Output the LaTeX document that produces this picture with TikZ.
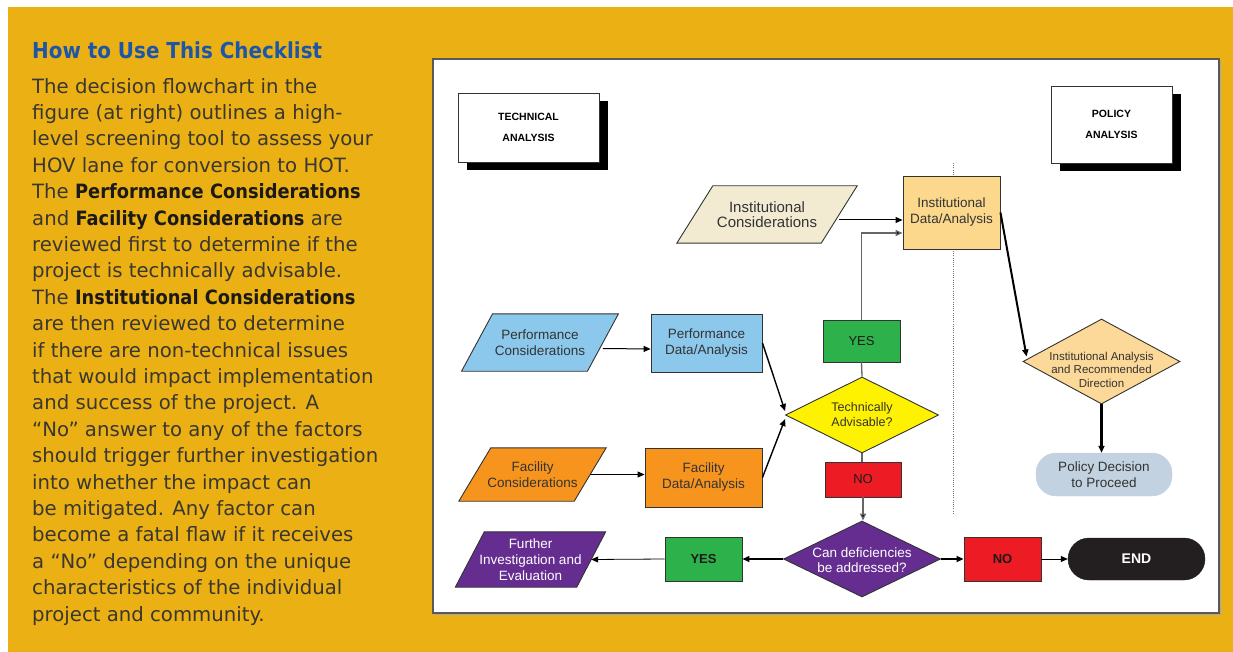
\documentclass[tikz,border=0pt]{standalone}
\usepackage{fontspec}
\setmainfont{Liberation Sans}
\newfontfamily\bodyfont{DejaVu Sans}[BoldFeatures={FakeStretch=0.905}]
\usetikzlibrary{shapes.geometric,arrows.meta,shadows}

\pgfdeclarelayer{panel}
\pgfdeclarelayer{shapes}
\pgfsetlayers{panel,shapes,main}

\definecolor{gold}{HTML}{EBB114}
\definecolor{titleblue}{HTML}{1D56A8}
\definecolor{bodygray}{HTML}{3A3630}
\definecolor{boldgray}{HTML}{1C1A18}
\definecolor{linegray}{HTML}{333333}
\definecolor{txtgray}{HTML}{333333}
\definecolor{linkgray}{HTML}{666666}
\definecolor{perfblue}{HTML}{8CC8EC}
\definecolor{facorange}{HTML}{F7941D}
\definecolor{instbeige}{HTML}{F2EBD2}
\definecolor{instdata}{HTML}{FBD88C}
\definecolor{yesgreen}{HTML}{2DB24B}
\definecolor{nored}{HTML}{ED1C24}
\definecolor{askyellow}{HTML}{FFF200}
\definecolor{deepviolet}{HTML}{662D91}
\definecolor{instdiam}{HTML}{FCD998}
\definecolor{policyblue}{HTML}{C3D2E0}
\definecolor{endblack}{HTML}{231F20}

\tikzset{
  outline/.style={draw=linegray, line width=0.9pt},
  slanttext/.style={inner sep=0pt, align=center, text=txtgray,
    font=\fontsize{13.5}{16}\selectfont},
  databox/.style={outline, rectangle, inner sep=0pt, align=center, text=txtgray,
    font=\fontsize{13.5}{16}\selectfont},
  headbox/.style={draw=linegray, line width=0.8pt, fill=white, align=center,
    inner sep=0pt, font=\bfseries\fontsize{10.5}{21}\selectfont,
    drop shadow={shadow xshift=9pt, shadow yshift=-8pt, fill=black, opacity=1}},
  answer/.style={outline, rectangle, inner sep=0pt, text=boldgray,
    font=\fontsize{13}{15}\selectfont},
  decision/.style={outline, diamond, inner sep=0pt},
  arr/.style={draw=black, line width=1pt, -{Triangle[length=7pt,width=6pt]}},
  thickarr/.style={arr, line width=2.4pt},
  link/.style={draw=linkgray, line width=1.3pt},
  linkarr/.style={link, -{Triangle[length=7pt,width=6pt,fill=black]}},
}

% parallelogram: options, name, centre, width, height, half slant, fill, text
\newcommand\slantbox[8]{%
  \node[slanttext, minimum width=#4, minimum height=#5, #1] (#2) at #3 {#8};
  \begin{pgfonlayer}{shapes}
    \draw[outline, fill=#7]
      ([xshift=#6]#2.north west) -- ([xshift=#6]#2.north east)
      -- ([xshift=-#6]#2.south east) -- ([xshift=-#6]#2.south west) -- cycle;
  \end{pgfonlayer}}

\begin{document}
\begin{tikzpicture}[x=1pt,y=-1pt]
\useasboundingbox (0,0) rectangle (1233,652);

\begin{pgfonlayer}{panel}
  \fill[white] (0,0) rectangle (1233,652);
  \fill[gold] (8,7) rectangle (1233,652);
  % flowchart sheet with a faint shadow
  \fill[black!35] (435,61) rectangle (1221,615);
  \draw[fill=white, draw=black!65, line width=1.4pt] (433,59) rectangle (1219,613);
\end{pgfonlayer}

% ---- explanatory column ----
\node[anchor=base west, inner sep=0pt, text=titleblue,
      font=\bodyfont\bfseries\fontsize{22}{24}\selectfont] (title) at (32,59)
  {How to Use This Checklist};

\node[anchor=north west, inner sep=0pt, align=left, text=bodygray,
      font=\bodyfont\fontsize{19.7}{26.4}\selectfont] (body) at (32,78)
  {The decision flowchart in the\\
   figure (at right) outlines a high-\\
   level screening tool to assess your\\
   HOV lane for conversion to HOT.\\
   The {\color{boldgray}\bfseries Performance Considerations}\\
   and {\color{boldgray}\bfseries Facility Considerations} are\\
   reviewed first to determine if the\\
   project is technically advisable.\\
   The {\color{boldgray}\bfseries Institutional Considerations}\\
   are then reviewed to determine\\
   if there are non-technical issues\\
   that would impact implementation\\
   and success of the project. A\\
   “No” answer to any of the factors\\
   should trigger further investigation\\
   into whether the impact can\\
   be mitigated. Any factor can\\
   become a fatal flaw if it receives\\
   a “No” depending on the unique\\
   characteristics of the individual\\
   project and community.};

% ---- flowchart headings ----
\node[headbox, minimum width=141pt, minimum height=69pt] (tech) at (528.5,127.5)
  {TECHNICAL\\ANALYSIS};
\node[headbox, minimum width=121pt, minimum height=77pt] (policyhead) at (1111.5,124.5)
  {POLICY\\ANALYSIS};

% divider between technical and policy sides
\coordinate (divtop) at (953,163);
\coordinate (divbot) at (953,515);
\draw[black!55, line width=0.7pt, dash pattern=on 1pt off 1.2pt] (divtop) -- (divbot);

% ---- inputs ----
\slantbox{font=\fontsize{15}{15}\selectfont}{icons}{(767,214.5)}{144pt}{57pt}{18pt}{instbeige}
  {Institutional\\Considerations}
\slantbox{}{pcons}{(540,342.5)}{125.5pt}{57pt}{15.5pt}{perfblue}
  {Performance\\Considerations}
\slantbox{}{fcons}{(532.5,474.5)}{115pt}{53pt}{16pt}{facorange}
  {Facility\\Considerations}
\slantbox{text=white}{further}{(530.5,559.5)}{121pt}{55pt}{14.5pt}{deepviolet}
  {Further\\Investigation and\\Evaluation}

% ---- data / analysis boxes ----
\node[databox, fill=instdata, minimum width=97pt, minimum height=73pt] (idata)
  at (951.5,212.5) {Institutional\\Data/Analysis};
\node[databox, fill=perfblue, minimum width=111pt, minimum height=58pt] (pdata)
  at (706.5,343) {Performance\\Data/Analysis};
\node[databox, fill=facorange, minimum width=117pt, minimum height=59pt] (fdata)
  at (703.5,477.5) {Facility\\Data/Analysis};

% ---- decisions ----
\node[decision, fill=askyellow, minimum width=153pt, minimum height=76pt,
      label={[align=center, text=txtgray, font=\fontsize{12.5}{15}\selectfont]
             center:Technically\\Advisable?}]
  (adv) at (862,415) {};
\node[decision, fill=deepviolet, minimum width=157pt, minimum height=76pt,
      label={[align=center, text=white, yshift=-1pt, font=\fontsize{13.5}{15}\selectfont]
             center:Can deficiencies\\be addressed?}]
  (defic) at (862,559) {};
\node[decision, fill=instdiam, minimum width=157pt, minimum height=85pt,
      label={[align=center, yshift=-8pt, text=txtgray,
              font=\fontsize{11.5}{13.5}\selectfont]
             center:Institutional Analysis\\and Recommended\\Direction}]
  (idiam) at (1101.5,361.5) {};

% ---- answers ----
\node[answer, fill=yesgreen, minimum width=77pt, minimum height=42pt] (yes1)
  at (861.5,341) {YES};
\node[answer, fill=nored, minimum width=76pt, minimum height=35pt] (no1)
  at (863,479.5) {NO};
\node[answer, fill=yesgreen, minimum width=77pt, minimum height=44pt,
      font=\bfseries\fontsize{13}{15}\selectfont] (yes2) at (703.5,559) {YES};
\node[answer, fill=nored, minimum width=77pt, minimum height=44pt,
      font=\bfseries\fontsize{13}{15}\selectfont] (no2) at (1002.5,559) {NO};

% ---- terminals ----
\node[draw=endblack, fill=endblack, rounded corners=21pt, minimum width=137pt,
      minimum height=42pt, text=white, font=\bfseries\fontsize{14}{16}\selectfont]
  (endnode) at (1136.5,559) {END};
\node[draw=policyblue, fill=policyblue, rounded corners=20pt, minimum width=136pt,
      minimum height=43pt, align=center, text=txtgray,
      font=\fontsize{13.5}{15.5}\selectfont]
  (policy) at (1104,474.5) {Policy Decision\\to Proceed};

% ---- connectors ----
\draw[arr] ([yshift=-5.5pt]icons.east) -- ([yshift=-7.5pt]idata.west);
\draw[linkarr] (yes1.north) |- ([yshift=-20.5pt]idata.west);
\draw[link] (yes1.south) -- (adv.north);
\draw[arr] ([yshift=-6pt]pcons.east) -- ([yshift=-6pt]pdata.west);
\draw[arr] (fcons.east) -- (fcons.east -| fdata.west);
\draw[arr, line width=1.4pt] (pdata.east) -- ([yshift=4pt]adv.west);
\draw[arr, line width=1.4pt] (fdata.east) -- ([yshift=-4pt]adv.west);
\draw[link] (adv.south) -- (adv.south |- no1.north);
\draw[linkarr] (no1.south) -- (no1.south |- defic.north);
\draw[thickarr] (defic.east) -- (no2.west);
\draw[arr] (no2.east) -- (endnode.west);
\draw[thickarr] (defic.west) -- (yes2.east);
\draw[arr, line width=0.8pt] (yes2.west) -- (further.east);
\draw[arr, line width=2pt] (idata.east) -- ([xshift=4pt,yshift=5pt]idiam.west);
\draw[arr, line width=2.6pt] (idiam.south) -- (idiam.south |- policy.north);

\end{tikzpicture}
\end{document}
